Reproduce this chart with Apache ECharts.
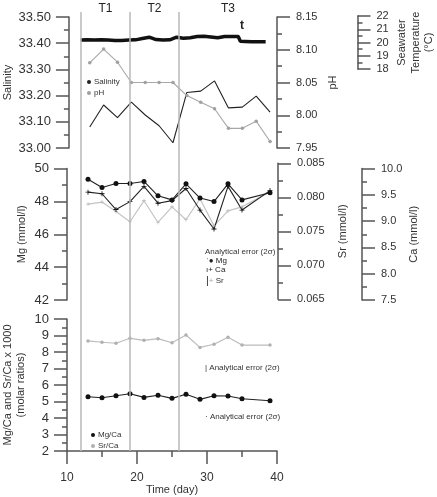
<!DOCTYPE html>
<html>
<head>
<meta charset="utf-8">
<script src="https://cdn.jsdelivr.net/npm/echarts@6/dist/echarts.min.js"></script>
<style>
  html, body { margin: 0; padding: 0; background: #fff; }
  #chart { width: 437px; height: 497px; }
</style>
</head>
<body>
<div id="chart"></div>
<script>
// sampling days (top panel has one more sample than the chemistry panels)
const days = [13, 15, 17, 19, 21, 23, 25, 27, 29, 31, 33, 35, 37, 39];
const salinity = [33.08, 33.164, 33.116, 33.175, 33.126, 33.085, 33.02, 33.212, 33.217, 33.256, 33.153, 33.156, 33.198, 33.137];
const pH = [8.08, 8.101, 8.081, 8.05, 8.05, 8.05, 8.05, 8.03, 8.02, 8.01, 7.98, 7.98, 7.991, 7.96];

// seawater temperature record
const tempDays = [12, 13, 14, 15, 16, 17, 18, 19, 20, 21, 22, 23, 24, 25, 26, 27, 28, 29, 30, 31, 32, 33, 34, 35, 35.3, 36, 37, 38, 39];
const temperature = [20.18, 20.2, 20.18, 20.2, 20.18, 20.15, 20.16, 20.18, 20.2, 20.3, 20.4, 20.22, 20.18, 20.2, 20.4, 20.32, 20.36, 20.45, 20.48, 20.42, 20.36, 20.45, 20.46, 20.45, 20.1, 20.08, 20.05, 20.05, 20.05];

// seawater chemistry
const chemDays = [13, 15, 17, 19, 21, 23, 25, 27, 29, 31, 33, 35, 39];
const mg = [49.35, 48.84, 49.09, 49.09, 49.21, 48.34, 48.09, 49.07, 48.2, 47.99, 49.07, 48.09, 48.52];
const ca = [9.55, 9.52, 9.22, 9.37, 9.66, 9.34, 9.39, 9.62, 9.21, 8.85, 9.66, 9.21, 9.58];
const sr = [0.079, 0.0793, 0.0779, 0.0764, 0.0795, 0.0763, 0.0786, 0.0767, 0.0798, 0.0758, 0.078, 0.0786, 0.0808];

// molar ratios x 1000
const mgCa = [5.29, 5.23, 5.35, 5.47, 5.25, 5.38, 5.19, 5.44, 5.13, 5.35, 5.33, 5.17, 5.05];
const srCa = [8.67, 8.59, 8.53, 8.83, 8.71, 8.81, 8.56, 9.03, 8.28, 8.47, 8.89, 8.42, 8.42];

// treatment periods
const phaseNames = ['T1', 'T2', 'T3'];
const phaseBounds = [12, 19, 26, 40];

const FONT = 'Liberation Sans, Arial, sans-serif';
const AXIS_COLOR = '#555';
const pairs = (xs, ys) => xs.map((x, i) => [x, ys[i]]);
const plus = 'path://M2.5,0H3.5V2.5H6V3.5H3.5V6H2.5V3.5H0V2.5H2.5Z';

function yAxisBase(opts) {
  return Object.assign({
    type: 'value',
    splitLine: { show: false },
    axisLine: { show: true, lineStyle: { color: AXIS_COLOR, width: 1.5 } },
    axisTick: { show: true, length: 13, lineStyle: { color: AXIS_COLOR, width: 1.5 } },
    minorTick: { show: true, splitNumber: 2, length: 5, lineStyle: { color: AXIS_COLOR, width: 1.5 } },
    axisLabel: { color: '#333', fontSize: 11, fontFamily: FONT, margin: 19 },
    nameLocation: 'middle',
    nameRotate: 90,
    nameTextStyle: { color: '#333', fontSize: 11, fontFamily: FONT, lineHeight: 13.5 }
  }, opts);
}

function hiddenX(gridIndex) {
  return { type: 'value', gridIndex: gridIndex, min: 10, max: 40, show: false };
}

const chart = echarts.init(document.getElementById('chart'));

chart.setOption({
  animation: false,
  textStyle: { fontFamily: FONT },
  grid: [
    { left: 67, width: 210, top: 17, height: 131 },      // salinity / pH
    { left: 67, width: 210, top: 16, height: 53 },       // temperature
    { left: 67, width: 210, top: 168.5, height: 131.5 }, // Mg / Ca
    { left: 67, width: 210, top: 163.3, height: 136 },   // Sr
    { left: 67, width: 210, top: 319, height: 132 },     // ratios
    { left: 67, width: 210, top: 12, height: 439 }       // period lines
  ],
  xAxis: [
    hiddenX(0), hiddenX(1), hiddenX(2), hiddenX(3),
    {
      type: 'value', gridIndex: 4, min: 10, max: 40, interval: 10,
      name: 'Time (day)', nameLocation: 'middle', nameGap: 33,
      nameTextStyle: { color: '#333', fontSize: 11, fontFamily: FONT },
      splitLine: { show: false },
      axisLine: { lineStyle: { color: AXIS_COLOR, width: 1.5 } },
      axisTick: { length: 13, lineStyle: { color: AXIS_COLOR, width: 1.5 } },
      minorTick: { show: true, splitNumber: 2, length: 6, lineStyle: { color: AXIS_COLOR, width: 1.5 } },
      axisLabel: { color: '#333', fontSize: 12, margin: 21 }
    },
    hiddenX(5)
  ],
  yAxis: [
    yAxisBase({ gridIndex: 0, position: 'left', min: 33, max: 33.5, interval: 0.1,
      name: 'Salinity', nameGap: 52,
      axisLabel: { color: '#333', fontSize: 13, margin: 18, formatter: v => v.toFixed(2) } }),
    yAxisBase({ gridIndex: 0, position: 'right', min: 7.95, max: 8.15, interval: 0.05,
      name: 'pH', nameGap: 49,
      axisLabel: { color: '#333', fontSize: 11, margin: 19, formatter: v => v.toFixed(2) } }),
    yAxisBase({ gridIndex: 1, position: 'right', offset: 85, min: 18, max: 22, interval: 1,
      name: 'Seawater\nTemperature\n(°C)', nameGap: 38 }),
    yAxisBase({ gridIndex: 2, position: 'left', min: 42, max: 50, interval: 2,
      name: 'Mg (mmol/l)', nameGap: 38,
      axisLabel: { color: '#333', fontSize: 13, margin: 18 } }),
    yAxisBase({ gridIndex: 2, position: 'right', offset: 85, min: 7.5, max: 10, interval: 0.5,
      name: 'Ca (mmol/l)', nameGap: 45,
      axisLabel: { color: '#333', fontSize: 11, margin: 19, formatter: v => v.toFixed(1) } }),
    yAxisBase({ gridIndex: 3, position: 'right', offset: 1, min: 0.065, max: 0.085, interval: 0.005,
      name: 'Sr (mmol/l)', nameGap: 58,
      axisLabel: { color: '#333', fontSize: 11, margin: 19, formatter: v => v.toFixed(3) } }),
    yAxisBase({ gridIndex: 4, position: 'left', min: 2, max: 10, interval: 1,
      name: 'Mg/Ca and Sr/Ca x 1000\n(molar ratios)', nameGap: 39,
      axisLabel: { color: '#333', fontSize: 13, margin: 18 } }),
    { type: 'value', gridIndex: 5, min: 0, max: 1, show: false }
  ],
  legend: [
    {
      data: ['Salinity', 'pH'], left: 87, top: 78, orient: 'vertical',
      icon: 'circle', itemWidth: 4, itemHeight: 4, itemGap: 3, padding: 0,
      textStyle: { fontSize: 8, color: '#333', padding: [0, 0, 0, -2] }
    },
    {
      data: ['Mg/Ca', 'Sr/Ca'], left: 91, top: 431, orient: 'vertical',
      icon: 'circle', itemWidth: 4, itemHeight: 4, itemGap: 3, padding: 0,
      textStyle: { fontSize: 8, color: '#333', padding: [0, 0, 0, -2] }
    }
  ],
  graphic: [
    { type: 'text', left: 205, top: 248, style: { text: 'Analytical error (2σ)', fontSize: 8, fill: '#333', fontFamily: FONT } },
    { type: 'text', left: 206, top: 257, style: { text: '\u02C8\u25CF Mg', fontSize: 8, fill: '#222', fontFamily: FONT } },
    { type: 'text', left: 206, top: 266, style: { text: '\u0131+ Ca', fontSize: 8, fill: '#222', fontFamily: FONT } },
    { type: 'text', left: 206, top: 275, style: {
      text: '{b||}{g|+} Sr', fontSize: 8, fill: '#333', fontFamily: FONT,
      rich: { b: { fontSize: 11, fill: '#333' }, g: { fontSize: 8, fill: '#aaa' } } } },
    { type: 'text', left: 205, top: 364, style: { text: '| Analytical error (2σ)', fontSize: 8, fill: '#333', fontFamily: FONT } },
    { type: 'text', left: 205, top: 413, style: { text: '\u00B7 Analytical error (2σ)', fontSize: 8, fill: '#333', fontFamily: FONT } },
    { type: 'text', left: 240, top: 20, style: { text: 't', fontSize: 12, fontWeight: 'bold', fill: '#222', fontFamily: FONT } }
  ],
  series: [
    {
      name: 'periods', type: 'line', xAxisIndex: 5, yAxisIndex: 7, data: [], z: 1, silent: true,
      markLine: {
        symbol: 'none', silent: true, label: { show: false },
        lineStyle: { color: '#b8b8b8', width: 1.5, type: 'solid' },
        data: phaseBounds.slice(0, 3).map(v => ({ xAxis: v }))
      },
      markArea: {
        silent: true, itemStyle: { color: 'rgba(0,0,0,0)' },
        label: { show: true, position: 'top', distance: -3, color: '#222', fontSize: 12, fontFamily: FONT },
        data: phaseNames.map((n, i) => [{ name: n, xAxis: phaseBounds[i] }, { xAxis: phaseBounds[i + 1] }])
      }
    },
    {
      name: 'Seawater temperature', type: 'line', xAxisIndex: 1, yAxisIndex: 2,
      data: pairs(tempDays, temperature), showSymbol: false,
      lineStyle: { color: '#111', width: 3.5 }, itemStyle: { color: '#111' }
    },
    {
      name: 'Salinity', type: 'line', xAxisIndex: 0, yAxisIndex: 0,
      data: pairs(days, salinity), showSymbol: false,
      lineStyle: { color: '#222', width: 1.1 }, itemStyle: { color: '#222' }
    },
    {
      name: 'pH', type: 'line', xAxisIndex: 0, yAxisIndex: 1,
      data: pairs(days, pH), symbol: 'circle', symbolSize: 3.5,
      lineStyle: { color: '#a8a8a8', width: 1.1 }, itemStyle: { color: '#a0a0a0' }
    },
    {
      name: 'Sr', type: 'line', xAxisIndex: 3, yAxisIndex: 5,
      data: pairs(chemDays, sr), symbol: plus, symbolSize: 4,
      lineStyle: { color: '#c4c4c4', width: 1.2 }, itemStyle: { color: '#bbb' }
    },
    {
      name: 'Ca', type: 'line', xAxisIndex: 2, yAxisIndex: 4,
      data: pairs(chemDays, ca), symbol: plus, symbolSize: 5,
      lineStyle: { color: '#222', width: 1.1 }, itemStyle: { color: '#111' }
    },
    {
      name: 'Mg', type: 'line', xAxisIndex: 2, yAxisIndex: 3,
      data: pairs(chemDays, mg), symbol: 'circle', symbolSize: 5,
      lineStyle: { color: '#222', width: 1.1 }, itemStyle: { color: '#111' }
    },
    {
      name: 'Sr/Ca', type: 'line', xAxisIndex: 4, yAxisIndex: 6,
      data: pairs(chemDays, srCa), symbol: 'circle', symbolSize: 3.5,
      lineStyle: { color: '#bcbcbc', width: 1.2 }, itemStyle: { color: '#b0b0b0' }
    },
    {
      name: 'Mg/Ca', type: 'line', xAxisIndex: 4, yAxisIndex: 6,
      data: pairs(chemDays, mgCa), symbol: 'circle', symbolSize: 5,
      lineStyle: { color: '#222', width: 1.1 }, itemStyle: { color: '#111' }
    }
  ]
});
</script>
</body>
</html>
